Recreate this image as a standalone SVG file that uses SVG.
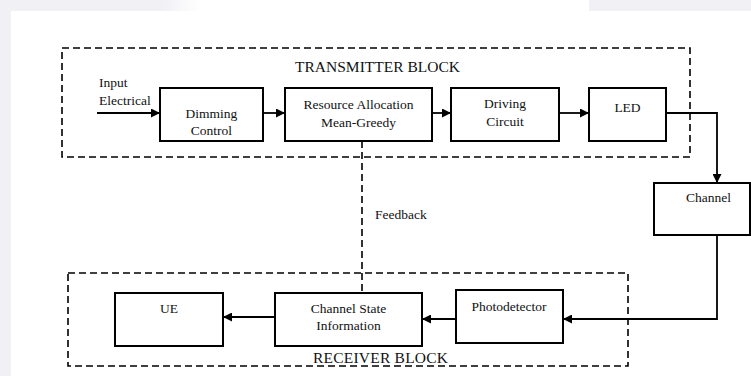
<svg xmlns="http://www.w3.org/2000/svg" width="751" height="376" viewBox="0 0 751 376" font-family="'Liberation Serif', 'Times New Roman', serif">
  <defs>
    <marker id="arr" viewBox="0 0 10 10" refX="10" refY="5" markerWidth="9" markerHeight="9" markerUnits="userSpaceOnUse" orient="auto">
      <path d="M0,0 L10,5 L0,10 Z" fill="#000"/>
    </marker>
    <linearGradient id="fade" x1="0" x2="1" y1="0" y2="0">
      <stop offset="0" stop-color="#f1f1f5"/>
      <stop offset="1" stop-color="#ffffff"/>
    </linearGradient>
    <style>
      .box { fill: #fff; stroke: #000; stroke-width: 2; }
      .dash { fill: none; stroke: #000; stroke-width: 1.6; stroke-dasharray: 7 4; }
      .wire { fill: none; stroke: #000; stroke-width: 1.8; }
      .lbl { font-family: 'Liberation Serif', 'Times New Roman', serif; font-size: 13.5px; fill: #111; }
      .mid { text-anchor: middle; }
      .big { font-size: 15.5px; }
    </style>
  </defs>

  <!-- background -->
  <rect x="0" y="0" width="751" height="376" fill="#f1f1f5"/>
  <rect x="11" y="11" width="740" height="365" fill="#ffffff"/>
  <rect x="163" y="0" width="38" height="11" fill="url(#fade)"/>
  <rect x="201" y="0" width="388" height="11" fill="#ffffff"/>

  <!-- blocks -->
  <g id="transmitter-block">
    <rect class="dash" x="62" y="48" width="628" height="109"/>
    <text class="lbl big" x="295" y="72" textLength="165">TRANSMITTER BLOCK</text>
  </g>
  <g id="receiver-block">
    <rect class="dash" x="68" y="273" width="560" height="93"/>
    <text class="lbl big" x="313" y="363" textLength="135">RECEIVER BLOCK</text>
  </g>

  <g id="input-label">
    <text class="lbl" x="99" y="87">Input</text>
    <text class="lbl" x="99" y="105">Electrical</text>
  </g>

  <g id="dimming">
    <rect class="box" x="160" y="88" width="103" height="53"/>
    <text class="lbl mid" x="211.5" y="118">Dimming</text>
    <text class="lbl mid" x="211.5" y="135">Control</text>
  </g>
  <g id="resource">
    <rect class="box" x="285" y="88" width="147" height="53"/>
    <text class="lbl mid" x="358.5" y="109">Resource Allocation</text>
    <text class="lbl mid" x="358.5" y="127">Mean-Greedy</text>
  </g>
  <g id="driving">
    <rect class="box" x="451" y="88" width="108" height="53"/>
    <text class="lbl mid" x="505" y="108">Driving</text>
    <text class="lbl mid" x="505" y="126">Circuit</text>
  </g>
  <g id="led">
    <rect class="box" x="589" y="88" width="77" height="53"/>
    <text class="lbl mid" x="627.5" y="112">LED</text>
  </g>
  <g id="channel">
    <rect class="box" x="654" y="183" width="96" height="52"/>
    <text class="lbl mid" x="708.5" y="202">Channel</text>
  </g>
  <g id="photodetector">
    <rect class="box" x="456" y="290" width="107" height="53"/>
    <text class="lbl mid" x="509" y="311">Photodetector</text>
  </g>
  <g id="csi">
    <rect class="box" x="275" y="293" width="147" height="53"/>
    <text class="lbl mid" x="348.5" y="313">Channel State</text>
    <text class="lbl mid" x="348.5" y="330">Information</text>
  </g>
  <g id="ue">
    <rect class="box" x="115" y="293" width="108" height="53"/>
    <text class="lbl mid" x="169" y="313">UE</text>
  </g>

  <g id="feedback-label">
    <text class="lbl" x="375" y="219">Feedback</text>
  </g>

  <!-- connectors -->
  <g id="connectors">
    <line class="wire" x1="97" y1="113" x2="160" y2="113" marker-end="url(#arr)"/>
    <line class="wire" x1="263" y1="113" x2="285" y2="113" marker-end="url(#arr)"/>
    <line class="wire" x1="432" y1="113" x2="451" y2="113" marker-end="url(#arr)"/>
    <line class="wire" x1="559" y1="113" x2="589" y2="113" marker-end="url(#arr)"/>
    <polyline class="wire" points="666,113 717,113 717,183" marker-end="url(#arr)"/>
    <polyline class="wire" points="717,235 717,319 563,319" marker-end="url(#arr)"/>
    <line class="wire" x1="456" y1="319" x2="422" y2="319" marker-end="url(#arr)"/>
    <line class="wire" x1="275" y1="317" x2="223" y2="317" marker-end="url(#arr)"/>
    <line class="dash" x1="362" y1="141" x2="362" y2="293"/>
  </g>
</svg>
